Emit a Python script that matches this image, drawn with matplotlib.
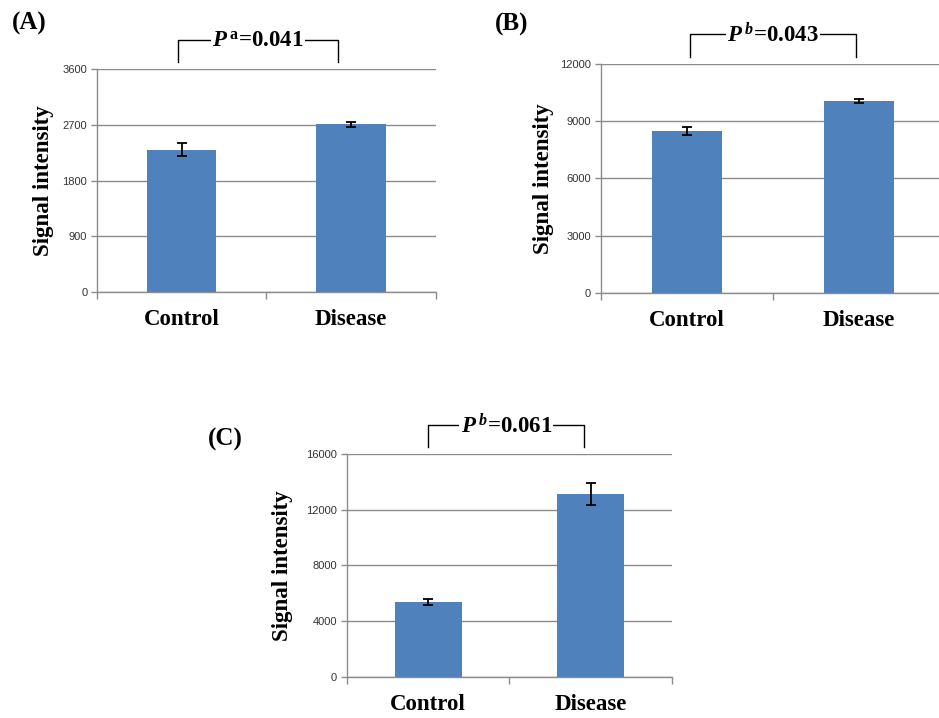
import numpy as np
import matplotlib
matplotlib.use("Agg")
import matplotlib.pyplot as plt
import matplotlib.transforms as mtransforms

# datos
groups = ["Control", "Disease"]
panel_names = ["(A)", "(B)", "(C)"]
means_a = [2300, 2705]
err_a = [105, 45]
means_b = [8490, 10060]
err_b = [220, 130]
means_c = [5370, 13100]
err_c = [210, 790]
yticks_a = [0, 900, 1800, 2700, 3600]
yticks_b = [0, 3000, 6000, 9000, 12000]
yticks_c = [0, 4000, 8000, 12000, 16000]
pvals = [r"$\mathit{P}^{\,\mathrm{a}}$=0.041", r"$\mathit{P}^{\,b}$=0.043", r"$\mathit{P}^{\,b}$=0.061"]

plt.rcParams['mathtext.fontset'] = 'custom'
plt.rcParams['mathtext.rm'] = 'Liberation Serif:bold'
plt.rcParams['mathtext.it'] = 'Liberation Serif:italic:bold'
plt.rcParams['mathtext.bf'] = 'Liberation Serif:bold'

bar_color = '#4F81BD'
grid_color = '#8C8C8C'
serif = 'Liberation Serif'

fig = plt.figure(figsize=(9.39, 7.18), dpi=100)

# posiciones de los paneles en fraccion de figura
rects = [[0.1033, 0.5933, 0.361, 0.3106],
         [0.640, 0.5919, 0.3664, 0.319],
         [0.3695, 0.0571, 0.3461, 0.3106]]
label_x = [-0.127, -0.136, -0.165]
bracket_x = [(-0.02, 0.92), (0.02, 0.98), (0.0, 0.96)]
letter_pos = [(29, 23), (512, 24), (225, 439)]

datos = [(means_a, err_a, yticks_a), (means_b, err_b, yticks_b), (means_c, err_c, yticks_c)]

for i, (means, errs, yt) in enumerate(datos):
    ax = fig.add_axes(rects[i])
    x = np.arange(len(groups))
    ax.bar(x, means, width=0.41, color=bar_color, zorder=3)
    ax.errorbar(x, means, yerr=errs, fmt='none', ecolor='black', elinewidth=1.3,
                capsize=3.5, capthick=1.3, zorder=4)
    ax.set_xlim(-0.5, 1.5)
    ax.set_ylim(yt[0], yt[-1])
    ax.set_yticks(yt)
    ax.set_yticklabels([str(v) for v in yt], fontsize=8, family='Liberation Sans', color='#333333')
    ax.yaxis.grid(True, color=grid_color, linewidth=1.0, zorder=0)
    ax.set_axisbelow(True)

    # ticks del eje x en los limites de categoria, etiquetas en el centro
    ax.set_xticks([-0.5, 0.5, 1.5])
    ax.set_xticklabels([])
    ax.set_xticks(x, minor=True)
    ax.set_xticklabels(groups, minor=True, fontsize=16.5, family=serif, fontweight='bold')
    ax.tick_params(axis='x', which='major', length=5, color=grid_color, width=1.0)
    ax.tick_params(axis='x', which='minor', length=0, pad=12)
    ax.tick_params(axis='y', length=4, color=grid_color, width=1.0, pad=3)

    for s in ['top', 'right']:
        ax.spines[s].set_visible(False)
    for s in ['left', 'bottom']:
        ax.spines[s].set_color(grid_color)
        ax.spines[s].set_linewidth(1.0)
        ax.spines[s].set_zorder(5)

    ax.set_ylabel('Signal intensity', fontsize=16.5, family=serif, fontweight='bold')
    ax.yaxis.set_label_coords(label_x[i], 0.5)

    # corchete con el valor P
    trans = mtransforms.blended_transform_factory(ax.transData, ax.transAxes)
    x0, x1 = bracket_x[i]
    ax.plot([x0, x0, x1, x1], [1.03, 1.13, 1.13, 1.03], color='black', lw=1.0,
            transform=trans, clip_on=False)
    ax.text((x0 + x1) / 2, 1.125, pvals[i], transform=trans, ha='center', va='center',
            fontsize=16.5, family=serif, fontweight='bold',
            bbox=dict(facecolor='white', edgecolor='none', pad=1.0))

    lx, ly = letter_pos[i]
    fig.text(lx / 939, 1 - ly / 718, panel_names[i], ha='center', va='center',
             fontsize=18, family=serif, fontweight='bold')

fig.savefig('out.png', dpi=100)
